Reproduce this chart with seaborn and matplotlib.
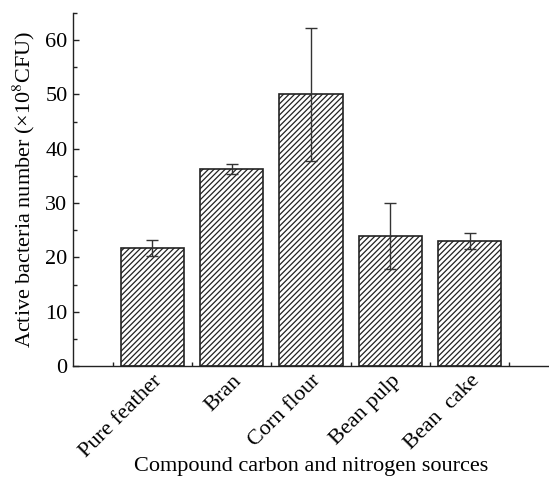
import matplotlib
matplotlib.use("Agg")
import matplotlib.pyplot as plt
import seaborn as sns
import pandas as pd
import numpy as np
from matplotlib.ticker import MultipleLocator, FixedLocator

categories = ["Pure feather", "Bran", "Corn flour", "Bean pulp", "Bean  cake"]
values = [21.7, 36.3, 50.0, 24.0, 23.0]
errors = [1.5, 0.9, 12.3, 6.1, 1.45]
y_ticks = [0, 10, 20, 30, 40, 50, 60]

sns.set_theme(style="white")
plt.rcParams['font.family'] = ['Liberation Serif', 'DejaVu Serif']
plt.rcParams['mathtext.fontset'] = 'stix'
plt.rcParams['hatch.linewidth'] = 0.9
plt.rcParams['hatch.color'] = '#222222'

df = pd.DataFrame({"cat": categories, "val": values})

fig = plt.figure(figsize=(5.49, 4.8), dpi=100)
ax = fig.add_axes([73/549, (480-366)/480, 476/549, 353/480])

sns.barplot(data=df, x="cat", y="val", ax=ax, color="white", edgecolor="#222222",
            linewidth=1.2, width=0.8, errorbar=None, saturation=1)
for p in ax.patches:
    p.set_hatch("//////")
    p.set_facecolor("white")

ax.errorbar(np.arange(len(categories)), values, yerr=errors, fmt="none",
            ecolor="#333333", elinewidth=1.0, capsize=4, capthick=1.0)

ax.set_xlim(-1, 5)
ax.set_ylim(0, 65)
ax.set_yticks(y_ticks)
ax.yaxis.set_minor_locator(MultipleLocator(5))
ax.xaxis.set_minor_locator(FixedLocator(np.arange(-0.5, 5.0, 1.0)))

for s in ["top", "right"]:
    ax.spines[s].set_visible(False)
for s in ["left", "bottom"]:
    ax.spines[s].set_color("#222222")
    ax.spines[s].set_linewidth(1.0)

ax.tick_params(axis="both", which="major", direction="in", length=4, width=1,
               color="#222222", labelsize=16, labelcolor="black", pad=4)
ax.tick_params(axis="both", which="minor", direction="in", length=3, width=1,
               color="#222222")
ax.tick_params(axis="x", which="both", bottom=True)
ax.tick_params(axis="y", which="both", left=True)

ax.set_xticks(range(len(categories)))
ax.set_xticklabels(categories, rotation=45, ha="right", rotation_mode="anchor", fontsize=16)

ax.set_xlabel("Compound carbon and nitrogen sources", fontsize=16, color="black", labelpad=-3)
ax.set_ylabel("Active bacteria number (×10$^{8}$CFU)", fontsize=16, color="black", labelpad=6)

fig.savefig("out.png", dpi=100)
